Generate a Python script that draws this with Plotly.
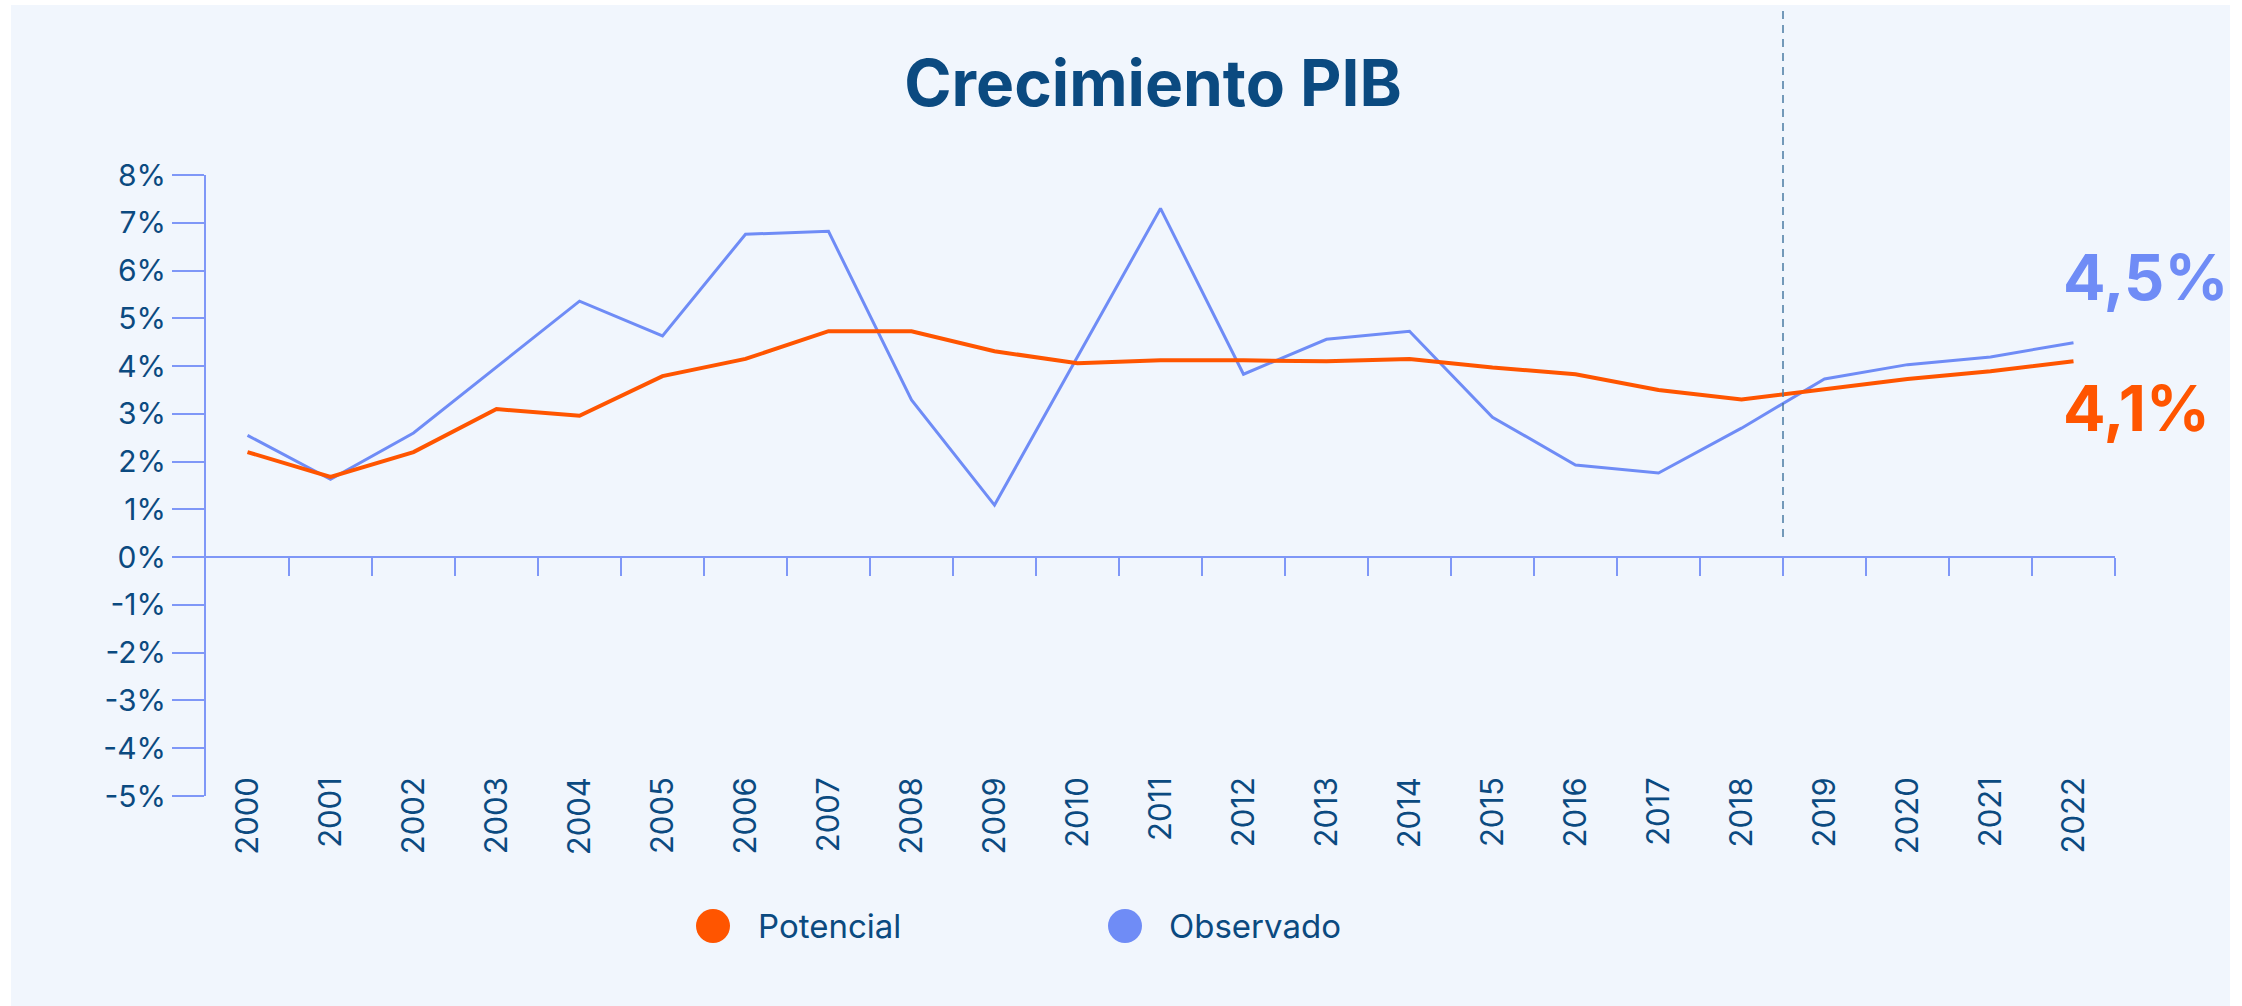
import plotly.graph_objects as go

# ---------------- data ----------------
years = list(range(2000, 2023))
potencial = [2.20, 1.68, 2.20, 3.10, 2.96, 3.79, 4.15, 4.73, 4.73, 4.31, 4.06,
             4.12, 4.12, 4.10, 4.15, 3.97, 3.83, 3.50, 3.30, 3.52, 3.73, 3.89, 4.10]
observado = [2.55, 1.63, 2.60, 3.98, 5.36, 4.63, 6.76, 6.82, 3.29, 1.09, 4.20,
             7.30, 3.83, 4.56, 4.73, 2.93, 1.93, 1.76, 2.70, 3.73, 4.03, 4.19, 4.49]
y_ticks = list(range(-5, 9))
y_ticktext = [f"{v}%" for v in y_ticks]
forecast_start = 2018.5
label_obs = "4,5%"
label_pot = "4,1%"
title_text = "Crecimiento PIB"

# ---------------- style ----------------
W, H = 2242, 1006
L, R, T, B = 206, 127, 175, 210
FONT = "Inter"
NAVY = "#0B4A80"
ORANGE = "#FF5500"
BLUE = "#6F8CF6"
AXIS = "#7F97F7"
PANEL = "#F1F6FD"

pw = W - L - R
ph = H - T - B
ymin, ymax = -5, 8


def px_x(px):
    return (px - L) / pw


def px_y(py):
    return (H - B - py) / ph


zero_pos = (0 - ymin) / (ymax - ymin)

fig = go.Figure()

fig.add_trace(go.Scatter(
    x=years, y=observado, mode="lines", name="Observado",
    line=dict(color=BLUE, width=3), xaxis="x", yaxis="y",
    showlegend=False, hoverinfo="skip"))
fig.add_trace(go.Scatter(
    x=years, y=potencial, mode="lines", name="Potencial",
    line=dict(color=ORANGE, width=4), xaxis="x2", yaxis="y",
    showlegend=False, hoverinfo="skip"))

xr = [years[0] - 0.5, years[-1] + 0.5]

fig.update_layout(
    width=W, height=H, autosize=False,
    margin=dict(l=L, r=R, t=T, b=B),
    paper_bgcolor="white",
    plot_bgcolor="rgba(0,0,0,0)",
    font=dict(family=FONT, color=NAVY),
    showlegend=False,
    title=dict(text=f"<b>{title_text}</b>", x=1153 / W, xref="container",
               xanchor="center", y=1 - 84 / H, yref="container", yanchor="middle",
               font=dict(family=FONT, size=64, color=NAVY)),
    xaxis=dict(range=xr, anchor="free", position=zero_pos,
               showline=True, linecolor=AXIS, linewidth=2,
               ticks="outside", ticklen=18, tickwidth=1.5, tickcolor=AXIS,
               tickvals=[y + 0.5 for y in years], showticklabels=False,
               showgrid=False, zeroline=False, automargin=False, fixedrange=True),
    xaxis2=dict(range=xr, overlaying="x", anchor="free", position=px_y(770),
                showline=False, ticks="", tickvals=years,
                ticktext=[str(y) for y in years], tickangle=-90,
                tickfont=dict(family=FONT, size=31, color=NAVY),
                showgrid=False, zeroline=False, automargin=False, fixedrange=True),
    yaxis=dict(range=[ymin, ymax], tickvals=y_ticks, ticktext=y_ticktext,
               showline=True, linecolor=AXIS, linewidth=2,
               ticks="outside", ticklen=32, tickwidth=1.5, tickcolor=AXIS,
               tickfont=dict(family=FONT, size=30, color=NAVY),
               showgrid=False, zeroline=False, automargin=False, fixedrange=True),
)

shapes = [
    dict(type="rect", xref="paper", yref="paper",
         x0=px_x(11), x1=px_x(2230), y0=px_y(1012), y1=px_y(5),
         fillcolor=PANEL, line=dict(width=0), layer="below"),
    dict(type="line", xref="x", yref="paper",
         x0=forecast_start, x1=forecast_start, y0=px_y(537), y1=px_y(5),
         line=dict(color="#4A7BA3", width=1.5, dash="8px,6px")),
]
legend_items = [("Potencial", ORANGE, 713, 756), ("Observado", BLUE, 1125, 1167)]
annotations = []
for name, col, cx, tx in legend_items:
    shapes.append(dict(type="circle", xref="paper", yref="paper",
                       xsizemode="pixel", ysizemode="pixel",
                       xanchor=px_x(cx), yanchor=px_y(926),
                       x0=-17, x1=17, y0=-17, y1=17,
                       fillcolor=col, line=dict(width=0)))
    annotations.append(dict(xref="paper", yref="paper", x=px_x(tx), y=px_y(926),
                            xanchor="left", yanchor="middle", showarrow=False,
                            text=name, font=dict(family=FONT, size=33, color=NAVY)))

annotations.append(dict(xref="paper", yref="paper", x=px_x(2061), y=px_y(277),
                        xanchor="left", yanchor="middle", showarrow=False,
                        text=f"<b>{label_obs}</b>",
                        font=dict(family=FONT, size=63, color=BLUE)))
annotations.append(dict(xref="paper", yref="paper", x=px_x(2061), y=px_y(408),
                        xanchor="left", yanchor="middle", showarrow=False,
                        text=f"<b>{label_pot}</b>",
                        font=dict(family=FONT, size=63, color=ORANGE)))

fig.update_layout(shapes=shapes, annotations=annotations)

fig.write_html(
    "out.html",
    config={"displayModeBar": False},
    post_script="document.body.style.margin='0px';document.body.style.overflow='hidden';",
)
